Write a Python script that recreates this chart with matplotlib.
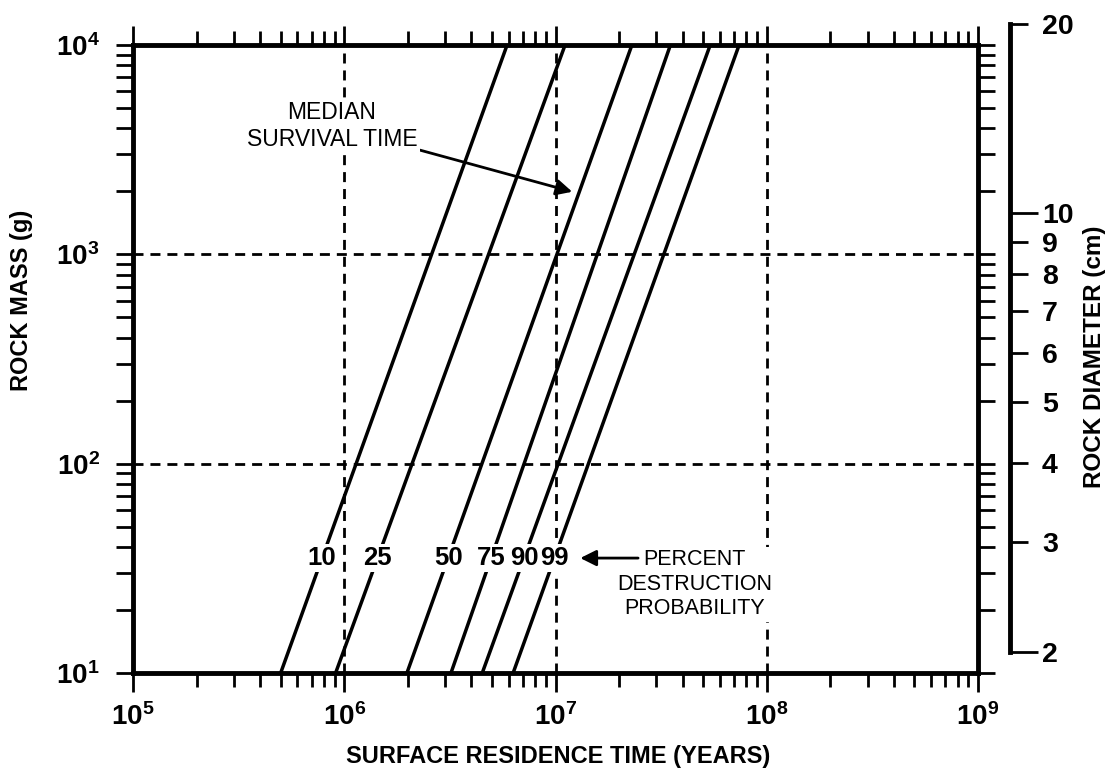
import numpy as np
import matplotlib.pyplot as plt
from matplotlib.ticker import LogLocator, NullFormatter

plt.rcParams['font.family'] = 'Liberation Sans'
plt.rcParams['mathtext.fontset'] = 'custom'
plt.rcParams['mathtext.rm'] = 'Liberation Sans:bold'
plt.rcParams['mathtext.it'] = 'Liberation Sans:bold'
plt.rcParams['mathtext.bf'] = 'Liberation Sans:bold'

# percent destruction probability curves, read at 10 g and 10^4 g
percent = [10, 25, 50, 75, 90, 99]
mass_ends = [10, 1e4]
t_at_low = [5.0e5, 9.1e5, 1.98e6, 3.2e6, 4.5e6, 6.3e6]
t_at_high = [5.9e6, 1.11e7, 2.3e7, 3.5e7, 5.4e7, 7.4e7]
label_mass = 35.4

x_ticks = [1e5, 1e6, 1e7, 1e8, 1e9]
x_tick_labels = ['$10^{5}$', '$10^{6}$', '$10^{7}$', '$10^{8}$', '$10^{9}$']
y_ticks = [1e1, 1e2, 1e3, 1e4]
y_tick_labels = ['$10^{1}$', '$10^{2}$', '$10^{3}$', '$10^{4}$']
x_grid = [1e6, 1e7, 1e8]
y_grid = [1e2, 1e3]

# rock diameter scale (sphere, density in g/cm^3)
density = 3.0
diam_major = [2, 10]
diam_minor = [3, 4, 5, 6, 7, 8, 9, 20]

W, H = 1112, 769
fig = plt.figure(figsize=(W / 100, H / 100), dpi=100)
B = 1 - 673 / H
T = 1 - 45 / H
ax = fig.add_axes([133 / W, B, (978 - 133) / W, T - B])
ax.set_xscale('log')
ax.set_yscale('log')
ax.set_xlim(1e5, 1e9)
ax.set_ylim(10, 1e4)

dash = (0, (3.6, 2.5))
for xv in x_grid:
    ax.axvline(xv, color='k', lw=2, ls=dash, zorder=1)
for yv in y_grid:
    ax.axhline(yv, color='k', lw=2, ls=dash, zorder=1)

frac = (np.log10(label_mass) - 1) / 3
for p, t0, t1 in zip(percent, t_at_low, t_at_high):
    ax.plot([t0, t1], mass_ends, color='k', lw=2.5, zorder=3)
    tx = 10 ** (np.log10(t0) + frac * (np.log10(t1) - np.log10(t0)))
    ax.text(tx, label_mass, str(p), ha='center', va='center', fontsize=18.5,
            fontweight='bold', zorder=5,
            bbox=dict(facecolor='white', edgecolor='none', pad=1.5))

ax.annotate('MEDIAN\nSURVIVAL TIME', xy=(1.2e7, 1.99e3), xytext=(8.75e5, 4.1e3),
            ha='center', va='center', fontsize=16.5, zorder=6,
            bbox=dict(facecolor='white', edgecolor='none', pad=2),
            arrowprops=dict(arrowstyle='-|>', color='k', lw=2, mutation_scale=24,
                            shrinkA=0, shrinkB=0))
ax.text(4.57e7, 26.6, 'PERCENT\nDESTRUCTION\nPROBABILITY', ha='center', va='center',
        fontsize=15.5, zorder=6, linespacing=1.2,
        bbox=dict(facecolor='white', edgecolor='none', pad=2))
ax.annotate('', xy=(1.31e7, label_mass), xytext=(2.46e7, label_mass),
            arrowprops=dict(arrowstyle='-|>', color='k', lw=2, mutation_scale=24,
                            shrinkA=0, shrinkB=0), zorder=7)

ax.set_xticks(x_ticks, labels=x_tick_labels)
ax.set_yticks(y_ticks, labels=y_tick_labels)
ax.xaxis.set_minor_locator(LogLocator(base=10, subs=np.arange(2, 10), numticks=20))
ax.yaxis.set_minor_locator(LogLocator(base=10, subs=np.arange(2, 10), numticks=20))
ax.xaxis.set_minor_formatter(NullFormatter())
ax.yaxis.set_minor_formatter(NullFormatter())
ax.tick_params(axis='x', which='major', direction='out', length=14, width=2,
               top=True, labelsize=20, pad=8)
ax.tick_params(axis='x', which='minor', direction='out', length=10, width=2, top=True)
ax.tick_params(axis='y', which='both', direction='out', length=12, width=2,
               right=True, labelsize=20, pad=12)
for s in ax.spines.values():
    s.set_linewidth(3.5)

fig.text(22 / W, 1 - 300 / H, 'ROCK MASS (g)', rotation=90, ha='center', va='center',
         fontsize=17, fontweight='bold')
fig.text(558 / W, 1 - 756 / H, 'SURFACE RESIDENCE TIME (YEARS)', ha='center',
         va='center', fontsize=17, fontweight='bold')


def diam_frac(d):
    m = density * np.pi / 6 * d ** 3
    return B + (np.log10(m) - 1) / 3 * (T - B)


ax_d = fig.add_axes([1010 / W - 0.01, diam_frac(2), 0.01, diam_frac(20) - diam_frac(2)])
ax_d.set_yscale('log')
ax_d.set_ylim(2, 20)
ax_d.patch.set_visible(False)
for name in ['left', 'top', 'bottom']:
    ax_d.spines[name].set_visible(False)
ax_d.spines['right'].set_linewidth(3.5)
ax_d.set_xticks([])
ax_d.yaxis.tick_right()
ax_d.set_yticks(diam_major, labels=[str(d) for d in diam_major], fontweight='bold')
ax_d.set_yticks(diam_minor, labels=[str(d) for d in diam_minor], minor=True,
                fontweight='bold')
ax_d.tick_params(axis='y', which='major', direction='out', length=20, width=2,
                 pad=3, labelsize=20.5)
ax_d.tick_params(axis='y', which='minor', direction='out', length=13, width=2,
                 pad=10, labelsize=20.5)

fig.text(1095 / W, 1 - 357 / H, 'ROCK DIAMETER (cm)', rotation=90, ha='center',
         va='center', fontsize=17.5, fontweight='bold')

fig.savefig('out.png', dpi=100)
